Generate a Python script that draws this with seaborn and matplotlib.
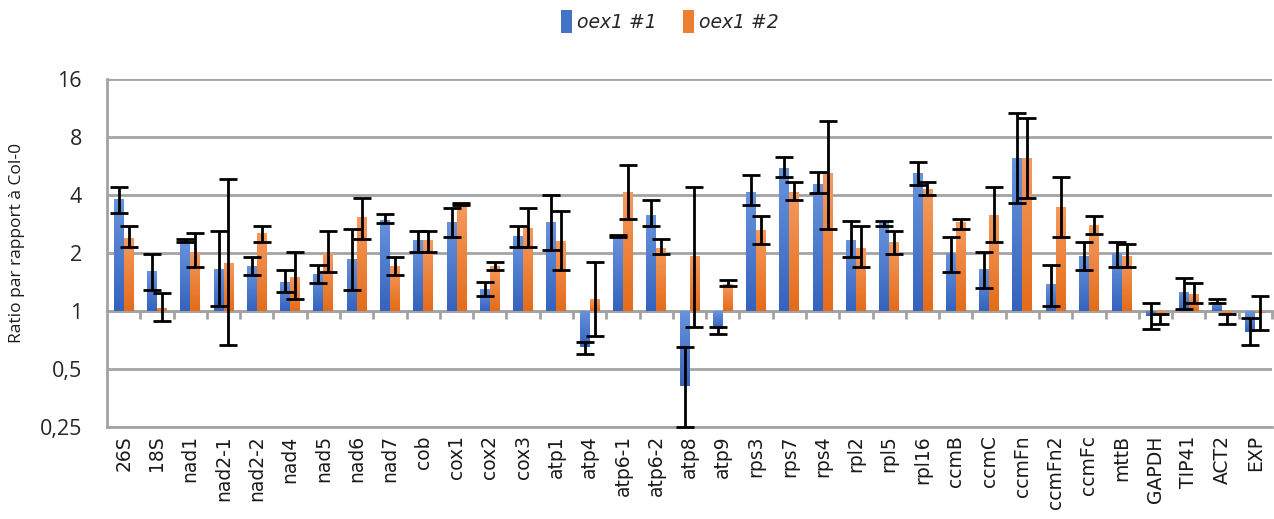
import numpy as np
import pandas as pd
import seaborn as sns
import matplotlib.pyplot as plt
from matplotlib.colors import LinearSegmentedColormap

genes = ["26S", "18S", "nad1", "nad2-1", "nad2-2", "nad4", "nad5", "nad6", "nad7",
         "cob", "cox1", "cox2", "cox3", "atp1", "atp4", "atp6-1", "atp6-2", "atp8",
         "atp9", "rps3", "rps7", "rps4", "rpl2", "rpl5", "rpl16", "ccmB", "ccmC",
         "ccmFn", "ccmFn2", "ccmFc", "mttB", "GAPDH", "TIP41", "ACT2", "EXP"]
lines = ["oex1 #1", "oex1 #2"]

# ratio to Col-0 (bar height) and the low / high ends of the error bars
ratio_1 = [3.81, 1.61, 2.34, 1.65, 1.71, 1.42, 1.56, 1.87, 2.97, 2.33, 2.88, 1.30,
           2.46, 2.88, 0.65, 2.46, 3.16, 0.41, 0.81, 4.17, 5.52, 4.57, 2.33, 2.85,
           5.20, 2.01, 1.65, 6.22, 1.38, 1.93, 2.01, 0.94, 1.26, 1.11, 0.78]
low_1 = [3.22, 1.29, 2.29, 1.06, 1.54, 1.25, 1.40, 1.29, 2.86, 2.03, 2.43, 1.20,
         2.16, 2.08, 0.595, 2.43, 2.77, 0.25, 0.76, 3.53, 4.95, 4.12, 1.90, 2.77,
         4.52, 1.59, 1.32, 3.63, 1.06, 1.63, 1.69, 0.81, 1.03, 1.10, 0.67]
high_1 = [4.38, 1.97, 2.37, 2.59, 1.90, 1.63, 1.74, 2.67, 3.19, 2.59, 3.42, 1.41,
          2.77, 3.98, 0.69, 2.49, 3.75, 0.65, 0.83, 5.09, 6.29, 5.26, 2.94, 2.93,
          5.95, 2.43, 2.03, 10.66, 1.73, 2.29, 2.29, 1.10, 1.49, 1.16, 0.92]

ratio_2 = [2.39, 1.04, 2.03, 1.77, 2.55, 1.51, 1.99, 3.07, 1.71, 2.33, 3.59, 1.71,
           2.71, 2.31, 1.15, 4.17, 2.12, 1.93, 1.38, 2.62, 4.17, 5.20, 2.12, 2.27,
           4.29, 2.88, 3.16, 6.22, 3.47, 2.80, 1.93, 0.94, 1.22, 0.95, 0.98]
low_2 = [2.16, 0.89, 1.69, 0.67, 2.29, 1.16, 1.59, 2.36, 1.54, 2.03, 3.55, 1.63,
         2.15, 1.63, 0.74, 3.02, 1.97, 0.83, 1.35, 2.22, 3.75, 2.67, 1.69, 1.97,
         3.98, 2.67, 2.29, 3.88, 2.43, 2.51, 1.69, 0.86, 1.10, 0.86, 0.80]
high_2 = [2.77, 1.24, 2.53, 4.84, 2.77, 2.03, 2.59, 3.88, 1.90, 2.59, 3.63, 1.79,
          3.42, 3.31, 1.79, 5.74, 2.36, 4.38, 1.44, 3.12, 4.65, 9.72, 2.77, 2.59,
          4.65, 3.02, 4.38, 10.04, 4.95, 3.12, 2.22, 0.96, 1.40, 0.97, 1.20]

ytick_vals = [0.25, 0.5, 1, 2, 4, 8, 16]
ytick_labels = ["0,25", "0,5", "1", "2", "4", "8", "16"]

GRID = "#a3a3a3"
base_colors = ["#4472c4", "#ed7d31"]
gradients = [("#3563bd", "#6893dd"), ("#e46c1a", "#f59a5e")]

sns.set_theme(style="white")
plt.rcParams["font.family"] = ["DejaVu Sans"]

df = pd.DataFrame({
    "gene": genes * 2,
    "line": [lines[0]] * len(genes) + [lines[1]] * len(genes),
    "log2ratio": np.log2(ratio_1 + ratio_2),
})

fig = plt.figure(figsize=(12.74, 5.19), dpi=100)
ax = fig.add_axes([107 / 1274, 1 - 427 / 519, (1272 - 107) / 1274, (427 - 79) / 519])

sns.barplot(data=df, x="gene", y="log2ratio", hue="line", palette=base_colors,
            width=0.6, saturation=1, linewidth=0, errorbar=None, ax=ax)

# vertical gradient inside every bar (lighter on top)
for cont, (c_bot, c_top) in zip(ax.containers, gradients):
    cmap = LinearSegmentedColormap.from_list("g", [c_bot, c_top])
    for bar in cont:
        x0, w = bar.get_x(), bar.get_width()
        y0, h = bar.get_y(), bar.get_height()
        im = ax.imshow(np.linspace(0, 1, 64).reshape(-1, 1), cmap=cmap, origin="lower",
                       aspect="auto", extent=[x0, x0 + w, min(y0, y0 + h), max(y0, y0 + h)],
                       zorder=2)
        im.set_clip_path(bar)

# error bars
for cont, val, lo, hi in zip(ax.containers, [ratio_1, ratio_2], [low_1, low_2], [high_1, high_2]):
    xs = [b.get_x() + b.get_width() / 2 for b in cont]
    y = np.log2(val)
    ax.errorbar(xs, y, yerr=[y - np.log2(lo), np.log2(hi) - y], fmt="none",
                ecolor="black", elinewidth=2, capsize=6.5, capthick=2,
                zorder=4, clip_on=False)

ax.set_xlim(-0.5, len(genes) - 0.5)
ax.set_ylim(np.log2(ytick_vals[0]), np.log2(ytick_vals[-1]))
ax.set_yticks(np.log2(ytick_vals), labels=ytick_labels)

ax.set_axisbelow(True)
ax.yaxis.grid(True, color=GRID, linewidth=2)
sns.despine(ax=ax, top=True, right=True)
for side in ["left", "bottom"]:
    ax.spines[side].set_color(GRID)
    ax.spines[side].set_linewidth(2)

ax.tick_params(axis="y", direction="out", length=7, width=2, color=GRID, pad=11,
               labelsize=15.5, labelcolor="#262626", labelfontfamily="Open Sans")
ax.tick_params(axis="x", length=0, pad=6, labelsize=13.5, labelcolor="#1a1a1a",
               rotation=90)

# category axis crossing at ratio = 1, with boundary ticks
sec = ax.secondary_xaxis(1 / 3)
sec.set_xticks(np.arange(len(genes)) + 0.5, labels=[])
sec.tick_params(axis="x", direction="out", length=6, width=2, color=GRID)
for side in ["top", "bottom"]:
    sec.spines[side].set_color(GRID)
    sec.spines[side].set_linewidth(2)

ax.set_xlabel("")
ax.set_ylabel("Ratio par rapport à Col-0", fontsize=12.5, family="Open Sans", color="#1a1a1a")
ax.yaxis.set_label_coords(-0.0705, 0.53)

sns.move_legend(ax, "center", bbox_to_anchor=(0.526, 0.958), bbox_transform=fig.transFigure,
                ncol=2, frameon=False, title=None, fontsize=13.5, handlelength=0.55,
                handleheight=1.5, handletextpad=0.3, columnspacing=1.4)
for t in ax.get_legend().get_texts():
    t.set_fontstyle("italic")

fig.savefig("out.png", dpi=100)
